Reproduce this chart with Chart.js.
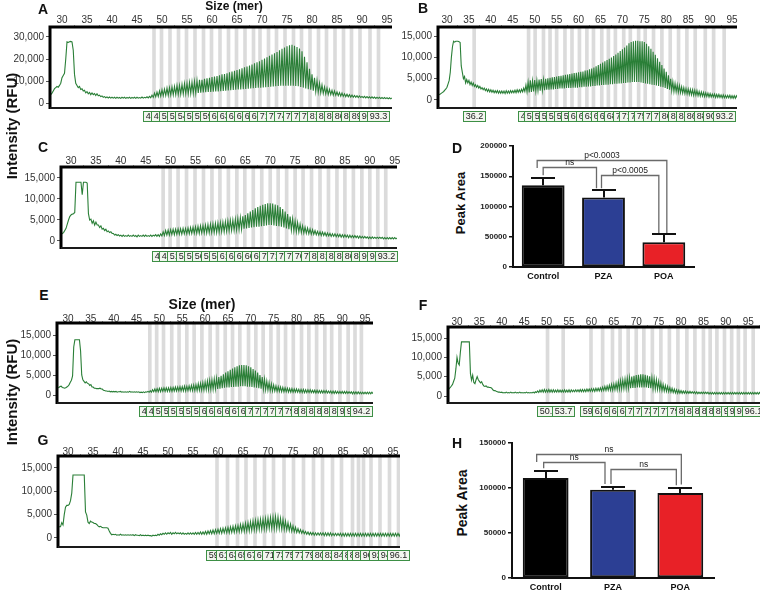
<!DOCTYPE html>
<html>
<head>
<meta charset="utf-8">
<script src="https://cdn.jsdelivr.net/npm/chart.js@4.4.1/dist/chart.umd.min.js"></script>
<style>
  body { margin: 0; background: #fff; }
  #page { position: relative; width: 760px; height: 593px; overflow: hidden; background: #fff;
          font-family: "Liberation Sans", Arial, sans-serif; }
  #page canvas { position: absolute; }
  .t { position: absolute; white-space: nowrap; transform: translate(-50%, -50%); color: #111; font-weight: bold; line-height: 1; }
  .rot { transform: translate(-50%, -50%) rotate(-90deg); }
</style>
</head>
<body>
<div id="page">
  <canvas id="cA"></canvas><canvas id="cB"></canvas><canvas id="cC"></canvas><canvas id="cD"></canvas>
  <canvas id="cE"></canvas><canvas id="cF"></canvas><canvas id="cG"></canvas><canvas id="cH"></canvas>

  <div class="t" style="left:43px;top:9px;font-size:14px">A</div>
  <div class="t" style="left:423px;top:8px;font-size:14px">B</div>
  <div class="t" style="left:43px;top:147px;font-size:14px">C</div>
  <div class="t" style="left:457px;top:148px;font-size:14px">D</div>
  <div class="t" style="left:44px;top:295px;font-size:14px">E</div>
  <div class="t" style="left:423px;top:305px;font-size:14px">F</div>
  <div class="t" style="left:43px;top:440px;font-size:14px">G</div>
  <div class="t" style="left:457px;top:443px;font-size:14px">H</div>

  <div class="t" style="left:234px;top:6px;font-size:12px">Size (mer)</div>
  <div class="t" style="left:202px;top:304px;font-size:14px">Size (mer)</div>
  <div class="t rot" style="left:11px;top:126px;font-size:15px">Intensity (RFU)</div>
  <div class="t rot" style="left:11px;top:392px;font-size:15px">Intensity (RFU)</div>
  <div class="t rot" style="left:460px;top:203px;font-size:13px">Peak Area</div>
  <div class="t rot" style="left:462px;top:503px;font-size:14px">Peak Area</div>
</div>
<script>
// ---- electropherogram data (RFU in thousands) ----
// hi = peak value at each half-mer from sizeStart, lo = trough a quarter-mer later
const sizeStart = 27.5;
const sizeStep = 0.5;

const sizeTicks = [30, 35, 40, 45, 50, 55, 60, 65, 70, 75, 80, 85, 90, 95];
const rfuTicksA = [0, 10000, 20000, 30000];
const rfuTicks = [0, 5000, 10000, 15000];

const aHi = [3.2,4.5,6.5,7.5,8,11.5,13.5,27.8,27.8,27.8,
  13,8,7.5,6.5,5.8,5.2,4.8,4.6,4.3,4.2,
  3.6,3.2,2.9,2.8,2.7,2.6,2.6,2.6,2.5,2.6,
  2.6,2.5,2.6,2.5,2.6,2.6,2.5,2.7,2.6,2.8,
  3,3.6,4.5,5,5.5,6,6.3,6.8,7,7.3,
  7.5,8,8.1,8.5,8.8,9,9.3,9.5,9.8,10.2,
  10.5,10.6,11,11.2,11.5,11.8,12,12.3,12.6,13,
  13.2,13.5,14,14.3,14.6,15,15.3,15.8,16.2,16.6,
  17,17.5,18,18.5,19,19.6,20.2,20.8,21.5,22,
  22.6,23.2,24,24.6,25.2,25.8,26.2,26.5,26,25.5,
  24.8,23.5,21,18.5,15.5,13,11.5,10.3,9,8.2,
  7.3,6.8,6.2,5.8,5.5,5,4.7,4.5,4.2,4,
  3.8,3.6,3.4,3.3,3.2,3,3,2.9,2.8,2.8,
  2.7,2.6,2.6,2.5,2.5,2.4,2.4,2.3,2.3,2.3,2.3];
const aLo = [3.8,5.5,7,7.2,9,12.5,20,27.5,28,24,
  9,7,6.2,5.5,4.6,4.2,3.8,3.8,3.4,3.3,
  2.9,2.6,2.4,2.3,2.2,2.2,2.1,2.2,2.1,2.2,
  2.1,2.2,2.1,2.2,2.1,2.2,2.2,2.2,2.3,2.3,
  2.4,2.6,2.8,3,3.1,3.3,3.4,3.5,3.6,3.7,
  3.8,3.9,4,4.1,4.2,4.2,4.3,4.4,4.5,4.6,
  4.7,4.8,4.9,5,5,5.1,5.2,5.3,5.4,5.5,
  5.6,5.7,5.8,5.9,6,6.1,6.2,6.3,6.4,6.5,
  6.6,6.7,6.8,6.9,7,7.1,7.2,7.3,7.4,7.5,
  7.6,7.7,7.8,7.8,7.9,7.9,7.9,7.8,7.7,7.6,
  7.3,7,6.6,6.3,6,5.6,5.2,4.9,4.6,4.3,
  4.1,3.9,3.8,3.6,3.5,3.3,3.1,3,2.9,2.8,
  2.7,2.6,2.6,2.5,2.5,2.4,2.3,2.3,2.2,2.2,
  2.1,2.1,2,2,2,1.9,1.9,1.9,1.8,1.8,1.8];

const bHi = [1.1,1.2,1.4,1.8,2.3,3,4.6,10,13.8,13.8,
  13.8,13.5,6.5,5.5,4.8,4.6,4.2,4,3.6,3.4,
  3.2,2.9,2.8,2.6,2.5,2.4,2.3,2.2,2.2,2.1,
  2.1,2.1,2.2,2.1,2.2,2.2,2.3,2.4,2.4,2.5,
  2.8,3.5,4.2,4.6,4.5,4.7,4.6,4.8,4.9,4.8,
  5,5.1,5.2,5.3,5.4,5.5,5.6,5.7,5.8,5.9,
  6,6.1,6.2,6.3,6.4,6.5,6.6,6.7,6.9,7,
  7.2,7.4,7.6,7.9,8.2,8.5,8.8,9.1,9.4,9.7,
  10,10.3,10.7,11.1,11.5,11.9,12.3,12.8,13.3,13.6,
  13.8,13.9,13.9,13.8,13.8,13.6,13.2,12.6,12,11.3,
  10.6,9.8,9,8.2,7.4,6.6,5.8,5,4.3,3.9,
  3.6,3.4,3.1,2.9,2.7,2.6,2.5,2.4,2.3,2.2,
  2,1.9,1.8,1.7,1.6,1.5,1.4,1.4,1.3,1.3,
  1.2,1.2,1.1,1.1,1.1,1,1,1,1.2,1.2,1.2];
const bLo = [1.1,1.3,1.6,2,2.6,3.8,6.5,12.5,13.6,13.8,
  13.7,8,5,4,4,3.6,3.4,3.2,3,2.8,
  2.6,2.4,2.2,2,1.9,1.8,1.7,1.7,1.6,1.6,
  1.6,1.5,1.6,1.6,1.7,1.7,1.7,1.8,1.8,1.9,
  2,1.9,1.8,1.9,2,2.1,2.2,2.2,2.3,2.3,
  2.4,2.4,2.5,2.5,2.6,2.6,2.7,2.7,2.7,2.8,
  2.8,2.8,2.9,2.9,2.9,3,3,3.1,3.1,3.2,
  3.2,3.3,3.3,3.4,3.4,3.5,3.5,3.6,3.6,3.7,
  3.7,3.8,3.8,3.9,3.9,4,4,4.1,4.1,4.2,
  4.2,4.2,4.2,4.1,4,3.9,3.8,3.7,3.6,3.5,
  3.4,3.3,3.1,3,2.8,2.6,2.4,2.2,2,1.9,
  1.8,1.7,1.6,1.5,1.4,1.3,1.2,1.1,1.1,1,
  0.9,0.9,0.8,0.8,0.7,0.7,0.7,0.6,0.6,0.6,
  0.5,0.5,0.5,0.5,0.4,0.4,0.4,0.5,0.6,0.6,0.6];

const cHi = [1.5,1.6,2,3,5,6.2,6.5,14,14,14,
  14,14,6.5,5.2,4.8,4.5,3.8,3.6,3,2.8,
  2.4,2.2,1.8,1.6,1.5,1.4,1.4,1.3,1.4,1.3,
  1.4,1.3,1.4,1.3,1.4,1.4,1.3,1.4,1.4,1.5,
  1.5,1.7,2.2,2.5,2.6,2.7,2.8,2.8,2.9,2.9,
  3,3,3.1,3.2,3.3,3.4,3.5,3.6,3.7,3.8,
  3.9,4,4.1,4.2,4.3,4.4,4.5,4.6,4.8,4.9,
  5,5.2,5.4,5.6,5.9,6.2,6.6,7,7.4,7.8,
  8.1,8.4,8.6,8.8,9,9,8.9,8.7,8.5,8.1,
  7.6,7,6.4,5.8,5.3,4.8,4.4,4,3.6,3.3,
  3.1,2.9,2.7,2.5,2.3,2.2,2.1,2,1.9,1.8,
  1.7,1.7,1.6,1.6,1.5,1.5,1.4,1.4,1.3,1.3,
  1.2,1.2,1.1,1.1,1,1,1,0.9,0.9,0.9,
  0.9,0.8,0.8,0.8,0.8,0.8,0.7,0.7,0.7,0.7,0.7];
const cLo = [1.5,1.8,2.5,4,5.8,6.4,6.8,14,14,11,
  14,13.8,5,4.2,3.8,3.8,3.2,2.8,2.5,2.2,
  2,1.8,1.4,1.3,1.2,1.1,1.1,1.1,1.1,1.1,
  1.1,1,1.1,1.1,1.1,1.1,1.1,1.1,1.2,1.1,
  1.1,1.2,1.3,1.4,1.4,1.5,1.5,1.6,1.6,1.6,
  1.7,1.7,1.7,1.8,1.8,1.8,1.8,1.9,1.9,1.9,
  1.9,2,2,2,2.1,2.2,2.2,2.3,2.4,2.5,
  2.5,2.6,2.7,2.8,2.9,3,3.1,3.2,3.3,3.4,
  3.4,3.5,3.6,3.7,3.8,3.8,3.7,3.6,3.5,3.4,
  3.2,3,2.8,2.6,2.4,2.2,2.1,2,1.9,1.8,
  1.7,1.6,1.6,1.5,1.4,1.3,1.3,1.2,1.2,1.1,
  1.1,1,1,0.9,0.9,0.9,0.8,0.8,0.8,0.8,
  0.7,0.7,0.7,0.7,0.6,0.6,0.6,0.6,0.6,0.6,
  0.5,0.5,0.5,0.5,0.5,0.5,0.5,0.5,0.5,0.5,0.5];

const eHi = [1.6,1.9,2.2,1.8,1.8,2.2,3.2,4.8,13.8,13.8,
  13.8,5,3.4,3.3,2.8,2.6,2,1.7,1.6,1.7,
  1.5,1.1,1,1,0.9,0.9,0.9,0.8,0.9,0.8,
  0.8,0.8,0.9,0.8,0.8,0.8,0.8,0.7,0.8,0.8,
  0.9,1.1,1.3,1.5,1.6,1.7,1.7,1.8,1.8,1.8,
  1.9,1.9,2,2,2.1,2.1,2.2,2.2,2.3,2.4,
  2.5,2.6,2.8,2.9,3.1,3.3,3.5,3.7,3.8,4,
  4.2,4.5,4.8,5.2,5.6,5.9,6.3,6.6,6.9,7.2,
  7.4,7.5,7.5,7.4,7.2,6.9,6.5,6.1,5.6,5,
  4.5,4,3.5,3.1,2.8,2.5,2.3,2.1,2,1.9,
  1.8,1.7,1.6,1.6,1.5,1.5,1.4,1.4,1.4,1.3,
  1.3,1.3,1.2,1.2,1.2,1.1,1.1,1.1,1.1,1,
  1,1,1,0.9,0.9,0.9,0.9,0.9,0.8,0.8,
  0.8,0.8,0.8,0.7,0.7,0.7,0.7,0.7,0.7,0.7,0.7];
const eLo = [1.8,2.1,1.9,1.7,2,2.6,3.7,12,13.8,13.8,
  11,3.8,3,2.9,2.4,2,1.7,1.6,1.6,1.5,
  1.2,1,0.9,0.8,0.8,0.8,0.7,0.8,0.7,0.7,
  0.7,0.7,0.7,0.7,0.7,0.7,0.6,0.6,0.6,0.7,
  0.7,0.7,0.8,0.8,0.8,0.8,0.9,0.9,0.9,0.9,
  0.9,1,1,1,1,1,1,1.1,1.1,1.1,
  1.1,1.1,1.2,1.2,1.2,1.3,1.3,1.4,1.4,1.5,
  1.5,1.6,1.7,1.8,1.9,1.9,2,2,2.1,2.1,
  2.2,2.2,2.2,2.1,2.1,2,1.9,1.8,1.7,1.6,
  1.4,1.3,1.2,1.1,1,1,0.9,0.9,0.8,0.8,
  0.8,0.7,0.7,0.7,0.7,0.7,0.6,0.6,0.6,0.6,
  0.6,0.6,0.6,0.5,0.5,0.5,0.5,0.5,0.5,0.5,
  0.4,0.4,0.4,0.4,0.4,0.4,0.4,0.4,0.4,0.3,
  0.3,0.3,0.3,0.3,0.3,0.3,0.3,0.3,0.3,0.3,0.3];

const fHi = [1.4,1.6,2.2,3,4.6,10,8,14,14,14,
  14,5.8,5.4,3.2,5,3.8,3.7,2.6,2.6,2.3,
  2.2,1.6,1.4,1.1,1,1,0.9,1,0.9,1,
  0.9,1,0.9,1,0.9,0.9,1,0.9,0.9,1,
  1.1,1.3,1.5,1.6,1.7,1.6,1.7,1.6,1.6,1.5,
  1.6,1.5,1.5,1.6,1.5,1.6,1.6,1.5,1.6,1.6,
  1.7,1.7,1.7,1.8,1.8,1.9,1.9,2,2,2.1,
  2.3,2.5,2.6,2.8,3,3.1,3.4,3.7,4,4.2,
  4.4,4.6,4.8,5,5.2,5.4,5.5,5.6,5.6,5.5,
  5.3,5.1,4.8,4.5,4.2,3.8,3.4,3,2.7,2.5,
  2.2,2,1.8,1.6,1.5,1.4,1.3,1.3,1.2,1.2,
  1.1,1.1,1.1,1,1,1,1,1,0.9,0.9,
  0.9,0.9,0.9,0.9,0.9,0.9,0.9,0.9,0.9,0.9,
  0.9,0.9,0.9,0.9,0.9,0.9,0.9,0.9,0.9,0.9,0.9];
const fLo = [1.5,1.9,2.6,3.8,7,8.5,11.3,14,14,14,
  14,4.1,3.5,4.2,4.2,3.4,3,2.5,2.3,2.2,
  2,1.4,1.2,1,0.9,0.8,0.8,0.8,0.8,0.8,
  0.8,0.8,0.8,0.8,0.8,0.8,0.8,0.8,0.8,0.8,
  0.9,0.9,1,1,1,1,1,1,1,1,
  1,1,1,1,1,1,1.1,1.1,1.1,1.1,
  1.1,1.1,1.1,1.2,1.2,1.2,1.2,1.3,1.3,1.3,
  1.4,1.4,1.5,1.5,1.5,1.6,1.6,1.7,1.8,1.9,
  1.9,2,2,2.1,2.1,2.2,2.2,2.2,2.2,2.2,
  2.1,2,1.9,1.8,1.7,1.6,1.4,1.3,1.2,1.1,
  1,0.9,0.8,0.7,0.7,0.7,0.7,0.7,0.7,0.7,
  0.7,0.6,0.6,0.6,0.6,0.6,0.6,0.5,0.5,0.5,
  0.5,0.5,0.5,0.5,0.5,0.5,0.5,0.5,0.5,0.5,
  0.5,0.5,0.5,0.5,0.5,0.5,0.5,0.5,0.5,0.5,0.5];

const gHi = [2.3,2.4,2.4,2.8,6.6,7,8,13.5,13.5,13.5,
  13.5,13.5,5.6,3.4,3.6,3.3,3.1,2.6,2.5,2.2,
  2.2,2.1,1,0.8,0.8,0.7,0.8,0.7,0.7,0.7,
  0.7,0.7,0.7,0.6,0.7,0.6,0.6,0.6,0.5,0.6,
  0.6,0.8,0.9,1,1.1,1.1,1.2,1.1,1.2,1.1,
  1.1,1.1,1,1.1,1.1,1.1,1.2,1.2,1.3,1.3,
  1.4,1.5,1.6,1.7,1.8,1.9,2,2.1,2.2,2.3,
  2.4,2.5,2.6,2.7,2.9,3,3.2,3.3,3.5,3.7,
  3.8,3.9,4,4.1,4.2,4.3,4.4,4.5,4.6,4.5,
  4.2,4,3.6,3.3,3,2.6,2.3,2,1.8,1.6,
  1.4,1.3,1.2,1.2,1.1,1.1,1.1,1.1,1.1,1.1,
  1.1,1,1,1,1,1,1,1,1,1,
  1,1,1,1,1,1,1,1,1,1,
  1,1,1,1,1,1,1,1,1,1,1];
const gLo = [2.4,2.4,3.3,5,7,7.2,9.6,13.5,13.5,13.5,
  13.5,13.5,4.9,3.1,3.4,3.1,2.9,2.4,2.3,2.2,
  2.2,1.5,0.7,0.7,0.6,0.6,0.6,0.6,0.6,0.6,
  0.6,0.5,0.6,0.5,0.5,0.5,0.5,0.5,0.4,0.5,
  0.5,0.6,0.7,0.8,0.8,0.9,0.8,0.9,0.9,0.9,
  0.8,0.8,0.8,0.8,0.8,0.8,0.8,0.8,0.8,0.8,
  0.8,0.9,0.9,0.9,1,1,1,1.1,1.1,1.1,
  1.2,1.2,1.3,1.3,1.4,1.4,1.5,1.5,1.6,1.7,
  1.7,1.8,1.8,1.9,1.9,2,2,2,2,2,
  1.9,1.8,1.7,1.6,1.4,1.3,1.2,1.1,1,0.9,
  0.8,0.7,0.7,0.6,0.6,0.6,0.6,0.5,0.5,0.5,
  0.5,0.5,0.5,0.5,0.4,0.4,0.4,0.4,0.4,0.4,
  0.4,0.4,0.4,0.4,0.4,0.4,0.4,0.4,0.4,0.4,
  0.4,0.4,0.4,0.4,0.4,0.4,0.4,0.4,0.4,0.4,0.4];

// sized peaks (mer) marked by grey bars and labelled boxes
const aSizes = [48.4,49.9,51.6,53.3,54.9,56.6,58.3,59.9,61.6,63.3,64.9,66.6,68.3,69.6,71.3,72.9,74.6,76.3,77.9,79.6,81.3,82.9,84.6,86.3,87.9,89.6,91.6,93.3];
const bSizes = [36.2,48.6,50.1,52.0,53.5,55.0,56.9,58.5,60.2,61.9,63.4,65.3,66.8,68.4,70.3,71.8,73.7,75.2,77.1,79.0,80.9,82.8,84.7,86.6,88.9,90.8,93.2];
const cSizes = [48.5,49.9,51.5,53.2,54.9,56.6,58.3,59.9,61.6,63.3,64.9,66.6,68.3,70.0,71.6,73.3,75.0,76.6,78.3,80.0,81.7,83.4,85.0,86.7,88.4,90.0,91.6,93.2];
const eSizes = [47.9,49.4,50.9,52.7,54.3,56.0,57.6,59.3,61.1,62.7,64.4,66.0,67.6,69.5,71.1,72.7,74.4,76.0,77.6,79.3,81.1,82.7,84.4,86.2,87.7,89.5,91.3,92.8,94.2];
const fSizes = [50.2,53.7,59.9,62.5,64.7,66.4,68.2,70.0,71.7,73.6,75.5,77.4,79.3,81.3,83.1,85.0,86.5,88.0,89.7,91.3,92.8,94.3,96.1];
const gSizes = [59.8,61.9,63.9,65.6,67.4,69.3,71.1,73.2,75.1,77.1,79.1,80.9,82.9,84.7,86.9,88.1,89.1,90.6,92.4,94.3,96.1];

// ---- peak area data ----
const groups = ['Control', 'PZA', 'POA'];
const dMean = [135300, 115000, 41000];
const dErrTop = [147000, 127000, 54000];
const hMean = [111000, 98000, 94500];
const hErrTop = [119000, 101500, 100000];
const dAreaTicks = [0, 50000, 100000, 150000, 200000];
const hAreaTicks = [0, 50000, 100000, 150000];
// [from, to, bracket height, left leg end, right leg end, label]
const dBrackets = [[0, 2, 176500, 163500, 56000, 'p<0.0003'],
                   [0, 1, 165000, 151500, 130000, 'ns'],
                   [1, 2, 152000, 130000, 56000, 'p<0.0005']];
const hBrackets = [[0, 2, 137800, 129000, 104000, 'ns'],
                   [0, 1, 128900, 122000, 104500, 'ns'],
                   [1, 2, 121100, 104500, 103000, 'ns']];
const barColors = ['#000000', '#2c3f94', '#e82127'];

const FONT = '"Liberation Sans", Arial, sans-serif';
const traceGreen = '#2a7f37';

function tracePoints(hi, lo) {
  const pts = [];
  hi.forEach((v, i) => {
    const x = sizeStart + i * sizeStep;
    pts.push({x: x, y: v * 1000});
    pts.push({x: x + sizeStep / 2, y: lo[i] * 1000});
  });
  return pts;
}

function fixedTicks(values) {
  return s => { s.ticks = values.map(v => ({value: v})); };
}

function traceExtras(sizes) {
  return {
    id: 'traceExtras',
    afterDatasetsDraw(chart) {
      const {ctx, chartArea: a, scales} = chart;
      ctx.save();
      ctx.strokeStyle = '#000';
      ctx.lineWidth = 3;
      ctx.beginPath();
      ctx.moveTo(a.left, a.bottom + 1);
      ctx.lineTo(a.left, a.top);
      ctx.lineTo(a.right, a.top);
      ctx.stroke();
      ctx.lineWidth = 2;
      ctx.strokeStyle = '#1a1a1a';
      ctx.beginPath();
      ctx.moveTo(a.left, a.bottom);
      ctx.lineTo(a.right, a.bottom);
      ctx.stroke();

      // size label boxes, later ones overlap earlier ones
      ctx.font = '9px ' + FONT;
      ctx.textAlign = 'center';
      ctx.textBaseline = 'middle';
      ctx.lineWidth = 1;
      sizes.forEach(s => {
        const px = scales.x.getPixelForValue(s);
        const label = s.toFixed(1);
        const w = Math.round(ctx.measureText(label).width + 4);
        const x0 = Math.round(px - w / 2) + 0.5;
        const y0 = Math.round(a.bottom) + 3.5;
        ctx.fillStyle = '#f2f6ef';
        ctx.fillRect(x0, y0, w, 10);
        ctx.strokeStyle = '#3d8f45';
        ctx.strokeRect(x0, y0, w, 10);
        ctx.fillStyle = '#222';
        ctx.fillText(label, x0 + w / 2, y0 + 5.5);
      });
      ctx.restore();
    }
  };
}

function makeTrace(id, rect, xr, yr, yTicks, labelPad, hi, lo, sizes) {
  const padL = 50, padT = 18, padB = 20, padR = 18;
  const cv = document.getElementById(id);
  cv.width = rect[2] - rect[0] + padL + padR;
  cv.height = rect[3] - rect[1] + padT + padB;
  cv.style.left = (rect[0] - padL) + 'px';
  cv.style.top = (rect[1] - padT) + 'px';

  new Chart(cv, {
    type: 'line',
    data: {
      datasets: [
        {type: 'line', data: tracePoints(hi, lo), borderColor: traceGreen, borderWidth: 1.1,
         pointRadius: 0, tension: 0, order: 0},
        {type: 'bar', data: sizes.map(s => ({x: s, y: [yr[0], yr[1]]})),
         backgroundColor: 'rgba(210,210,210,0.8)', barThickness: 3, order: 1}
      ]
    },
    options: {
      responsive: false,
      animation: false,
      events: [],
      layout: {padding: {left: 0, top: 0, right: padR, bottom: padB}, autoPadding: false},
      plugins: {legend: {display: false}, tooltip: {enabled: false}},
      scales: {
        x: {
          type: 'linear', position: 'top', min: xr[0], max: xr[1], offset: false,
          afterBuildTicks: fixedTicks(sizeTicks),
          ticks: {maxRotation: 0, autoSkip: false, padding: labelPad, color: '#333', font: {family: FONT, size: 10}},
          grid: {drawOnChartArea: false, drawTicks: true, tickLength: 2, color: '#999'},
          border: {display: false},
          afterFit: s => { s.height = padT; }
        },
        y: {
          min: yr[0], max: yr[1],
          afterBuildTicks: fixedTicks(yTicks),
          ticks: {autoSkip: false, padding: 2, color: '#333', font: {family: FONT, size: 10},
                  callback: v => v.toLocaleString('en-US')},
          grid: {drawOnChartArea: false, drawTicks: true, tickLength: 4, color: '#555'},
          border: {display: false},
          afterFit: s => { s.width = padL; }
        }
      }
    },
    plugins: [traceExtras(sizes)]
  });
}

function statsExtras(means, tops, brackets, legShift) {
  return {
    id: 'statsExtras',
    afterDatasetsDraw(chart) {
      const {ctx, scales: {x, y}} = chart;
      ctx.save();
      ctx.strokeStyle = '#111';
      ctx.lineWidth = 2;
      tops.forEach((t, i) => {
        const cx = Math.round(x.getPixelForValue(i));
        const yt = Math.round(y.getPixelForValue(t));
        ctx.beginPath();
        ctx.moveTo(cx, y.getPixelForValue(means[i]));
        ctx.lineTo(cx, yt);
        ctx.moveTo(cx - 12, yt);
        ctx.lineTo(cx + 12, yt);
        ctx.stroke();
      });
      ctx.strokeStyle = '#6a6a6a';
      ctx.lineWidth = 1.3;
      ctx.fillStyle = '#222';
      ctx.font = '8.5px ' + FONT;
      ctx.textAlign = 'center';
      ctx.textBaseline = 'bottom';
      brackets.forEach((b, k) => {
        const xl = x.getPixelForValue(b[0]) + legShift[k][0];
        const xr = x.getPixelForValue(b[1]) + legShift[k][1];
        const yb = Math.round(y.getPixelForValue(b[2])) + 0.5;
        ctx.beginPath();
        ctx.moveTo(xl, y.getPixelForValue(b[3]));
        ctx.lineTo(xl, yb);
        ctx.lineTo(xr, yb);
        ctx.lineTo(xr, y.getPixelForValue(b[4]));
        ctx.stroke();
        ctx.fillText(b[5], (xl + xr) / 2, yb - 1);
      });
      ctx.restore();
    }
  };
}

function makeBars(id, rect, yMax, yTicks, means, tops, brackets, legShift, barPct) {
  const padL = 42, padT = 8, padB = 20, padR = 8;
  const cv = document.getElementById(id);
  cv.width = rect[2] - rect[0] + padL + padR;
  cv.height = rect[3] - rect[1] + padT + padB;
  cv.style.left = (rect[0] - padL) + 'px';
  cv.style.top = (rect[1] - padT) + 'px';

  new Chart(cv, {
    type: 'bar',
    data: {
      labels: groups,
      datasets: [{data: means, backgroundColor: barColors, borderColor: '#111', borderWidth: 2,
                  borderSkipped: false, barPercentage: barPct, categoryPercentage: 1}]
    },
    options: {
      responsive: false,
      animation: false,
      events: [],
      layout: {padding: {left: 0, top: padT, right: padR, bottom: 0}, autoPadding: false},
      plugins: {legend: {display: false}, tooltip: {enabled: false}},
      scales: {
        x: {
          grid: {display: false, drawTicks: false, tickLength: 0},
          border: {display: true, color: '#111', width: 2},
          ticks: {padding: 4, color: '#111', font: {family: FONT, size: 9, weight: 'bold'}},
          afterFit: s => { s.height = padB; }
        },
        y: {
          min: 0, max: yMax,
          afterBuildTicks: fixedTicks(yTicks),
          ticks: {autoSkip: false, padding: 2, color: '#222', font: {family: FONT, size: 8, weight: 'bold'},
                  callback: v => String(v)},
          grid: {drawOnChartArea: false, drawTicks: true, tickLength: 4, color: '#111', lineWidth: 1.5},
          border: {display: true, color: '#111', width: 2},
          afterFit: s => { s.width = padL; }
        }
      }
    },
    plugins: [statsExtras(means, tops, brackets, legShift)]
  });
}

makeTrace('cA', [50, 27, 392, 108], [27.6, 96.0], [-2270, 34545], rfuTicksA, -1, aHi, aLo, aSizes);
makeTrace('cB', [438, 27, 737, 108], [27.95, 96.13], [-1878, 17136], rfuTicks, -1, bHi, bLo, bSizes);
makeTrace('cC', [61, 167, 397, 248], [27.99, 95.46], [-1667, 17619], rfuTicks, -2, cHi, cLo, cSizes);
makeTrace('cE', [57, 323, 373, 403], [27.59, 96.74], [-2000, 18000], rfuTicks, -4, eHi, eLo, eSizes);
makeTrace('cF', [448, 327, 762, 403], [27.99, 98.07], [-1810, 17845], rfuTicks, -3, fHi, fLo, fSizes);
makeTrace('cG', [58, 456, 400, 547], [28.0, 96.4], [-1929, 17571], rfuTicks, -4, gHi, gLo, gSizes);

makeBars('cD', [513, 146, 694, 267], 200000, dAreaTicks, dMean, dErrTop, dBrackets,
         [[-6, 3], [0, -7], [-2, -5]], 0.71);
makeBars('cH', [512, 443, 714, 578], 150000, hAreaTicks, hMean, hErrTop, hBrackets,
         [[-9, 1], [-2, -8], [-2, -4]], 0.68);
</script>
</body>
</html>
